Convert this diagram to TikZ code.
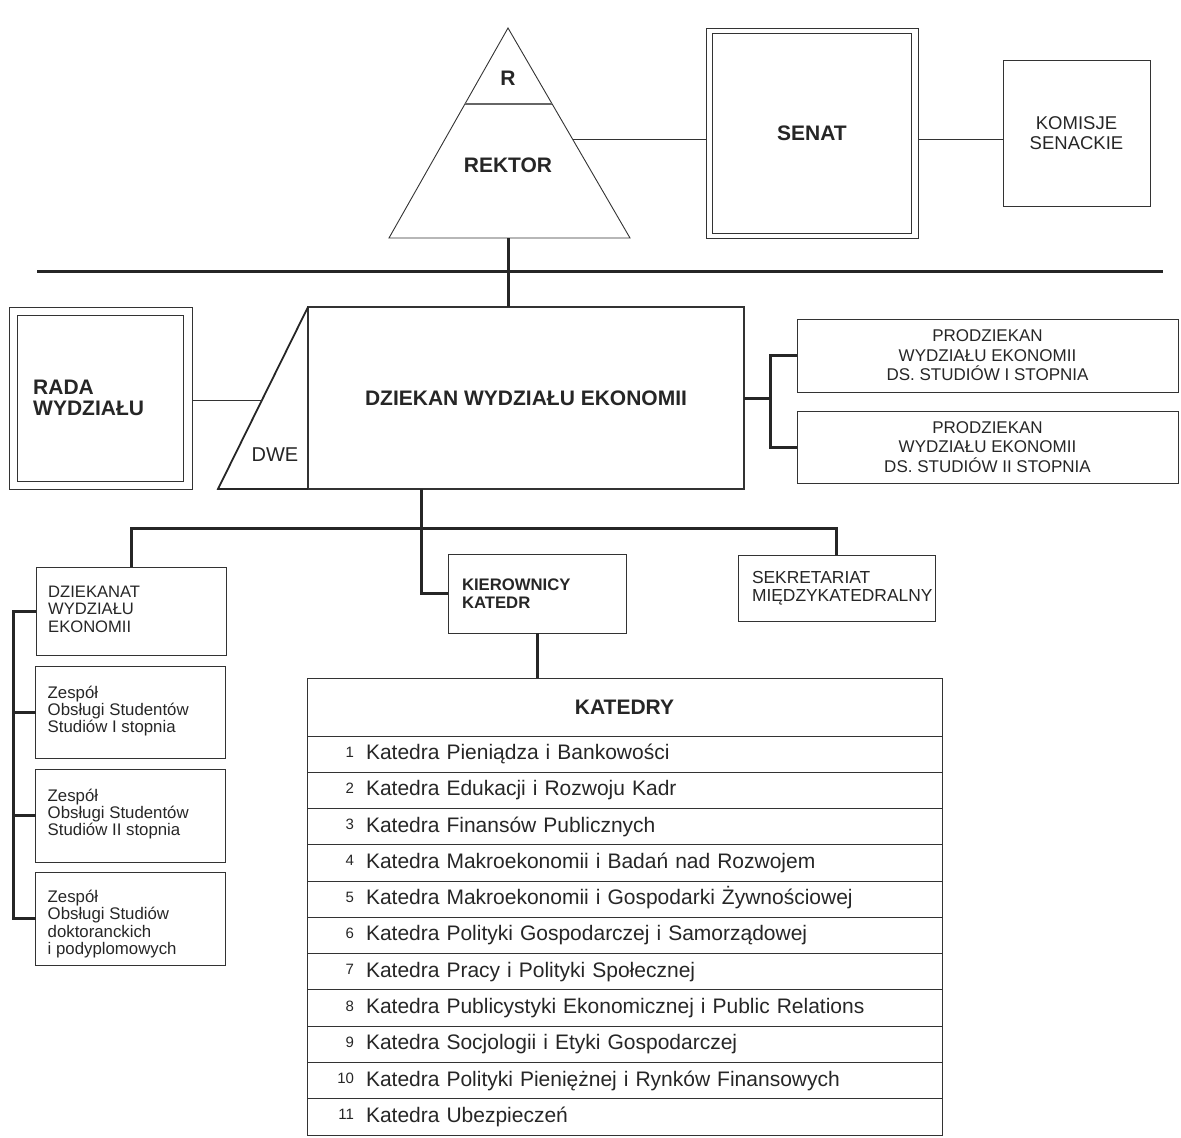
\documentclass[tikz,border=0pt]{standalone}
\usepackage{fontspec}
\setmainfont{Liberation Sans}
\usetikzlibrary{positioning,calc}
\newcommand{\fsz}[2]{\fontsize{#1}{#2}\selectfont}

\begin{document}
\begin{tikzpicture}[x=1pt,y=-1pt,text=black!85,
  box/.style={draw=black!80,line width=0.9pt,inner sep=0pt,outer sep=0pt},
  unit/.style={box,minimum width=190pt},
  unittxt/.style={anchor=north west,align=left,inner sep=0pt,font=\fsz{16.8}{17.4}},
  conn/.style={draw=black!85,line width=3pt},
  thin/.style={draw=black!80,line width=0.9pt},
  big/.style={font=\fsz{21}{21}\bfseries},
  row/.style={box,minimum width=635pt,minimum height=36.27pt,text width=635pt,text height=15pt,text depth=4pt,align=left,inner xsep=0pt,font=\fsz{21}{21}}]
  \useasboundingbox (0,0) rectangle (1181,1138);

  % rektor
  \coordinate (apex) at (508,28);
  \coordinate (bl) at (389,238);
  \coordinate (br) at (630,238);
  \draw[thin] (bl) -- (apex) -- (br) -- cycle;
  \draw[draw=black!60,line width=1.5pt] ($(apex)!0.362!(bl)$) -- ($(apex)!0.362!(br)$);
  \node[big] (r) at (508,78) {R};
  \node[big] (rektor) at (508,165) {REKTOR};
  \coordinate (trr) at ($(apex)!0.529!(br)$);

  % senat
  \node[box,minimum width=212pt,minimum height=210pt,big] (senat) at (812,133) {SENAT};
  \draw[thin] ($(senat.north west)+(6,5)$) rectangle ($(senat.south east)+(-7,-5)$);
  \node[box,minimum width=147pt,minimum height=146pt,align=center,font=\fsz{18.5}{19.5}] (komisje) at (1076.5,133) {KOMISJE\\SENACKIE};
  \draw[thin] (trr) -- (trr -| senat.west);
  \draw[thin] (trr -| senat.east) -- (trr -| komisje.west);

  \coordinate (barL) at (37,271);
  \coordinate (barR) at (1163,271);
  \draw[conn] (barL) -- (barR);

  % dziekan
  \node[box,line width=1.8pt,minimum width=436pt,minimum height=182pt,big] (dziekan) at (526,398) {DZIEKAN WYDZIAŁU EKONOMII};
  \coordinate (dwe) at (218,489);
  \draw[draw=black!85,line width=1.8pt] (dziekan.north west) -- (dwe) -- (dziekan.south west);
  \node[font=\fsz{20}{21}] (dwetxt) at (275,455) {DWE};
  \draw[conn] (apex |- bl) -- (apex |- dziekan.north);

  \node[box,minimum width=183pt,minimum height=182pt] (rada) at (100.5,398) {};
  \draw[thin] ($(rada.north west)+(8,8)$) rectangle ($(rada.south east)+(-9,-8)$);
  \node[anchor=west,align=left,inner sep=0pt,big] (radatxt) at (33,398) {RADA\\WYDZIAŁU};
  \coordinate (rj) at ($(dziekan.north west)!0.516!(dwe)$);
  \draw[thin] (rj -| rada.east) -- (rj);

  % prodziekani
  \node[box,minimum width=381pt,minimum height=73pt,align=center,font=\fsz{17}{19.5}] (p1) at (987.5,355.5) {PRODZIEKAN\\WYDZIAŁU EKONOMII\\DS. STUDIÓW I STOPNIA};
  \node[box,minimum width=381pt,minimum height=72pt,align=center,font=\fsz{17}{19.5}] (p2) at (987.5,447) {PRODZIEKAN\\WYDZIAŁU EKONOMII\\DS. STUDIÓW II STOPNIA};
  \draw[conn] (dziekan.east) -- ++(26,0) coordinate (pj);
  \draw[conn] (p1.west) -| (pj) |- (p2.west);

  % jednostki
  \node[unit,minimum height=88pt] (dziekanat) at (131,611) {};
  \node[unittxt,font=\fsz{16.6}{17.6}] (dziekanattxt) at ($(dziekanat.north west)+(12,18.5)$) {DZIEKANAT\\WYDZIAŁU\\EKONOMII};
  \node[box,align=left,inner xsep=14pt,text width=150pt,minimum height=79pt,font=\fsz{16.7}{18}\bfseries] (kier) at (537,593.5) {KIEROWNICY\\KATEDR};
  \node[box,align=left,inner xsep=14pt,text width=169pt,minimum height=66pt,font=\fsz{17.4}{18}] (sekr) at (836.5,588) {SEKRETARIAT\\MIĘDZYKATEDRALNY};
  \coordinate (hub) at (421,528);
  \draw[conn] (hub |- dziekan.south) -- (hub);
  \draw[conn] (dziekanat.north) |- (hub) -| (sekr.north);
  \draw[conn] (hub) |- (kier.west);

  % zespoly
  \node[unit,minimum height=92pt] (z1) at (130.5,712) {};
  \node[unittxt] (z1txt) at ($(z1.north west)+(12,19.5)$) {Zespół\\Obsługi Studentów\\Studiów I stopnia};
  \node[unit,minimum height=93pt] (z2) at (130.5,815.5) {};
  \node[unittxt] (z2txt) at ($(z2.north west)+(12,19.5)$) {Zespół\\Obsługi Studentów\\Studiów II stopnia};
  \node[unit,minimum height=93pt] (z3) at (130.5,918.5) {};
  \node[unittxt] (z3txt) at ($(z3.north west)+(12,18)$) {Zespół\\Obsługi Studiów\\doktoranckich\\i podyplomowych};
  \coordinate (lb) at (13,611);
  \draw[conn] (dziekanat.west) -| (lb) |- (z3.west);
  \draw[conn] (z1.west) -- (z1.west -| lb);
  \draw[conn] (z2.west) -- (z2.west -| lb);

  % katedry
  \node[box,minimum width=635pt,minimum height=58pt,big,alias=katedry] (k0) at (624.5,707) {KATEDRY};
  \draw[conn] (kier.south) -- (kier.south |- katedry.north);
  \foreach \n/\txt [remember=\n as \prev (initially 0)] in {
    1/Katedra Pieniądza i Bankowości,
    2/Katedra Edukacji i Rozwoju Kadr,
    3/Katedra Finansów Publicznych,
    4/Katedra Makroekonomii i Badań nad Rozwojem,
    5/Katedra Makroekonomii i Gospodarki Żywnościowej,
    6/Katedra Polityki Gospodarczej i Samorządowej,
    7/Katedra Pracy i Polityki Społecznej,
    8/Katedra Publicystyki Ekonomicznej i Public Relations,
    9/Katedra Socjologii i Etyki Gospodarczej,
    10/Katedra Polityki Pieniężnej i Rynków Finansowych,
    11/Katedra Ubezpieczeń}
    \node[row,below=0pt of k\prev] (k\n) {\makebox[47pt][r]{\raisebox{2.5pt}{\fsz{15}{15}\n}}\hspace{12pt}\txt};
\end{tikzpicture}
\end{document}
